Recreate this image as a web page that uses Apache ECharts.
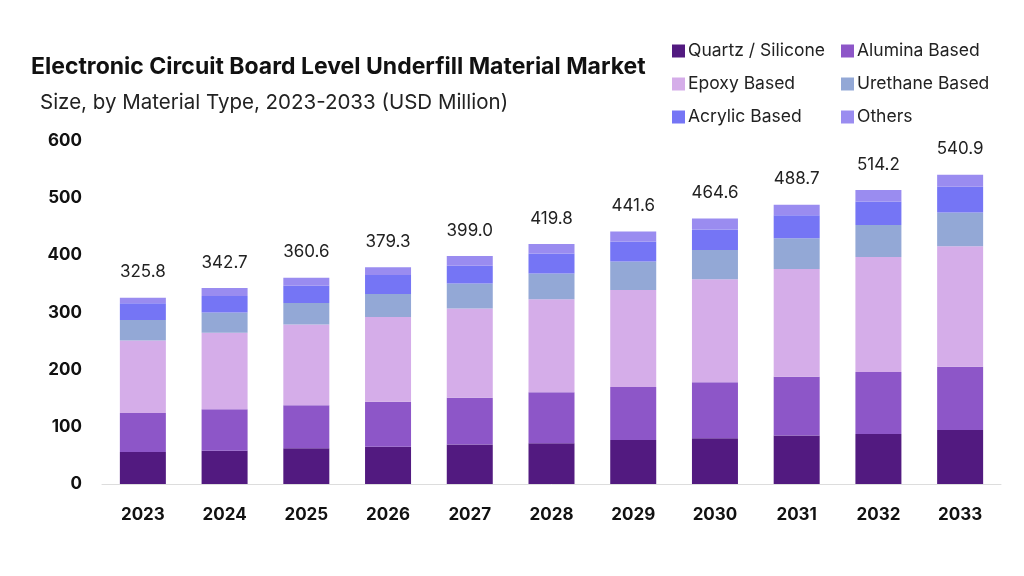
<!doctype html>
<html>
<head>
<meta charset="UTF-8">
<title>Electronic Circuit Board Level Underfill Material Market</title>
<script src="https://cdn.jsdelivr.net/npm/echarts@6/dist/echarts.min.js"></script>
<style>
  html, body { margin: 0; padding: 0; background: #fff; }
  #chart { width: 1024px; height: 576px; }
</style>
</head>
<body>
<div id="chart"></div>
<script>
var years = ['2023', '2024', '2025', '2026', '2027', '2028', '2029', '2030', '2031', '2032', '2033'];
var quartz = [56, 58, 62.4, 65.2, 69.2, 71.5, 76.9, 80, 85, 87.4, 94.4];
var alumina = [68, 72.6, 75.2, 78.8, 81.8, 89.1, 92.6, 97.8, 102.6, 108.6, 110.6];
var epoxy = [127, 134, 141.4, 148, 156, 162.4, 170, 180.2, 188.4, 201, 211];
var urethane = [36, 35.5, 37.4, 40.2, 43.8, 45.4, 49.5, 51.2, 54, 56, 59];
var acrylic = [29, 28.7, 30.3, 33.2, 30.8, 34.9, 35, 36.1, 40, 41, 45];
var others = [9.8, 13.9, 13.9, 13.9, 17.4, 16.5, 17.6, 19.3, 18.7, 20.2, 20.9];
var totals = ['325.8', '342.7', '360.6', '379.3', '399.0', '419.8', '441.6', '464.6', '488.7', '514.2', '540.9'];
var yTicks = [0, 100, 200, 300, 400, 500, 600];

var font = 'Inter, "Noto Sans", sans-serif';
var names = ['Quartz / Silicone', 'Alumina Based', 'Epoxy Based', 'Urethane Based', 'Acrylic Based', 'Others'];
var colors = ['#521a80', '#8d56c8', '#d5ade9', '#93a8d6', '#7575f5', '#9a8cf0'];
var values = [quartz, alumina, epoxy, urethane, acrylic, others];

var series = names.map(function(n, i) {
  var s = {
    name: n,
    type: 'bar',
    stack: 'total',
    barWidth: 46,
    itemStyle: { color: colors[i] },
    emphasis: { disabled: true },
    data: values[i]
  };
  // totals sit on top of the last stacked piece
  if (i === names.length - 1) {
    s.label = {
      show: true,
      position: 'top',
      distance: 17,
      fontFamily: font,
      fontSize: 17,
      color: '#222',
      formatter: function(p) { return totals[p.dataIndex]; }
    };
  }
  return s;
});

var legendBase = {
  orient: 'vertical',
  icon: 'rect',
  itemWidth: 13,
  itemHeight: 13,
  itemGap: 15,
  textStyle: { fontFamily: font, fontSize: 17.5, color: '#222', padding: [0, 0, 0, -2] }
};

var chart = echarts.init(document.getElementById('chart'));
chart.setOption({
  animation: false,
  color: colors,
  title: [{
    text: 'Electronic Circuit Board Level Underfill Material Market',
    left: 26,
    top: 51,
    textStyle: { fontFamily: font, fontSize: 23, fontWeight: 'bold', color: '#111' }
  }, {
    text: 'Size, by Material Type, 2023-2033 (USD Million)',
    left: 35,
    top: 87,
    textStyle: { fontFamily: font, fontSize: 20.5, fontWeight: 'normal', color: '#222' }
  }],
  legend: [
    Object.assign({}, legendBase, { left: 667, top: 37, data: [names[0], names[2], names[4]] }),
    Object.assign({}, legendBase, { left: 836, top: 37, data: [names[1], names[3], names[5]] })
  ],
  grid: { left: 102, right: 23, top: 141, bottom: 92 },
  xAxis: {
    type: 'category',
    data: years,
    axisLine: { lineStyle: { color: '#ddd' } },
    axisTick: { show: false },
    axisLabel: { fontFamily: font, fontSize: 17, fontWeight: 'bold', color: '#111', margin: 22 }
  },
  yAxis: {
    type: 'value',
    min: yTicks[0],
    max: yTicks[yTicks.length - 1],
    interval: 100,
    splitLine: { show: false },
    axisLine: { show: false },
    axisLabel: { fontFamily: font, fontSize: 17, fontWeight: 'bold', color: '#111', margin: 20 }
  },
  series: series
});
</script>
</body>
</html>
